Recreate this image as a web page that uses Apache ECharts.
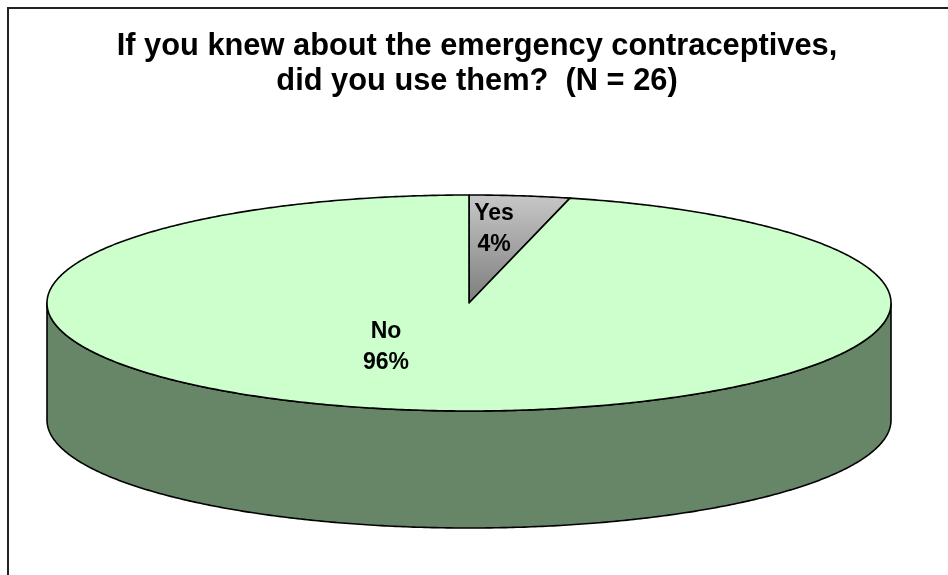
<!DOCTYPE html>
<html>
<head>
<meta charset="utf-8">
<script src="https://cdn.jsdelivr.net/npm/echarts@6/dist/echarts.min.js"></script>
<style>
  html, body { margin: 0; padding: 0; background: #fff; }
  #chart { width: 948px; height: 575px; }
</style>
</head>
<body>
<div id="chart"></div>
<script>
// Survey answers (counts out of N = 26)
const categories = ['Yes', 'No'];
const counts = [1, 25];
const titleLines = ['If you knew about the emergency contraceptives,', 'did you use them?  (N = 26)'];

const total = counts.reduce((a, b) => a + b, 0);

// 3D pie geometry (top ellipse + extruded side)
const CX = 469, CY = 303, RX = 422, RY = 108, DEPTH = 117;
const topFills = [
  new echarts.graphic.LinearGradient(0, 0, 0, 1, [
    { offset: 0, color: '#c8c8c8' },
    { offset: 1, color: '#7c7c7c' }
  ]),
  '#ccffcc'
];
const sideFills = ['#6e6e6e', '#678567'];
// label anchor offsets from the pie centre, per slice
const labelAnchors = [[25, -74], [-83, 44]];

function pt(t, dy) {
  return [CX + RX * Math.sin(t), CY - RY * Math.cos(t) + (dy || 0)];
}
function arc(t0, t1, dy) {
  const n = Math.max(2, Math.ceil(Math.abs(t1 - t0) / (Math.PI / 360)));
  const out = [];
  for (let i = 0; i <= n; i++) out.push(pt(t0 + (t1 - t0) * i / n, dy));
  return out;
}

const chart = echarts.init(document.getElementById('chart'), null, { renderer: 'canvas' });

chart.setOption({
  backgroundColor: '#ffffff',
  animation: false,
  title: {
    text: titleLines.join('\n'),
    left: 472,
    top: 24,
    textAlign: 'center',
    textStyle: {
      fontFamily: 'Liberation Sans, Arial, sans-serif',
      fontWeight: 'bold',
      fontSize: 30.8,
      lineHeight: 35,
      color: '#000'
    }
  },
  graphic: [{
    type: 'rect',
    silent: true,
    shape: { x: 8, y: 8, width: 1200, height: 1000 },
    style: { fill: 'none', stroke: '#222', lineWidth: 2 },
    z: -1
  }],
  series: [{
    type: 'custom',
    coordinateSystem: 'none',
    data: counts.map((v, i) => ({ name: categories[i], value: v })),
    renderItem: function (params, api) {
      const i = params.dataIndex;
      let before = 0;
      for (let k = 0; k < i; k++) before += counts[k];
      const t0 = before / total * Math.PI * 2;
      const t1 = (before + api.value(0)) / total * Math.PI * 2;
      const children = [];

      // front-facing side wall
      const lo = Math.max(t0, Math.PI / 2), hi = Math.min(t1, Math.PI * 3 / 2);
      if (lo < hi) {
        const pts = arc(lo, hi, 0).concat(arc(hi, lo, DEPTH));
        children.push({
          type: 'polygon',
          z2: 1,
          shape: { points: pts },
          style: { fill: sideFills[i], stroke: '#000', lineWidth: 1.6, lineJoin: 'round' }
        });
      }

      // top face
      const top = [[CX, CY]].concat(arc(t0, t1, 0));
      children.push({
        type: 'polygon',
        z2: 10,
        shape: { points: top },
        style: { fill: topFills[i], stroke: '#000', lineWidth: 1.6, lineJoin: 'round' }
      });

      // slice label
      const pct = Math.round(api.value(0) / total * 100) + '%';
      children.push({
        type: 'text',
        z2: 20,
        x: CX + labelAnchors[i][0],
        y: CY + labelAnchors[i][1],
        style: {
          text: categories[i] + '\n' + pct,
          fontFamily: 'Liberation Sans, Arial, sans-serif',
          fontWeight: 'bold',
          fontSize: 23,
          lineHeight: 31,
          fill: '#000',
          align: 'center',
          verticalAlign: 'middle'
        }
      });

      return { type: 'group', children: children };
    }
  }]
});
</script>
</body>
</html>
